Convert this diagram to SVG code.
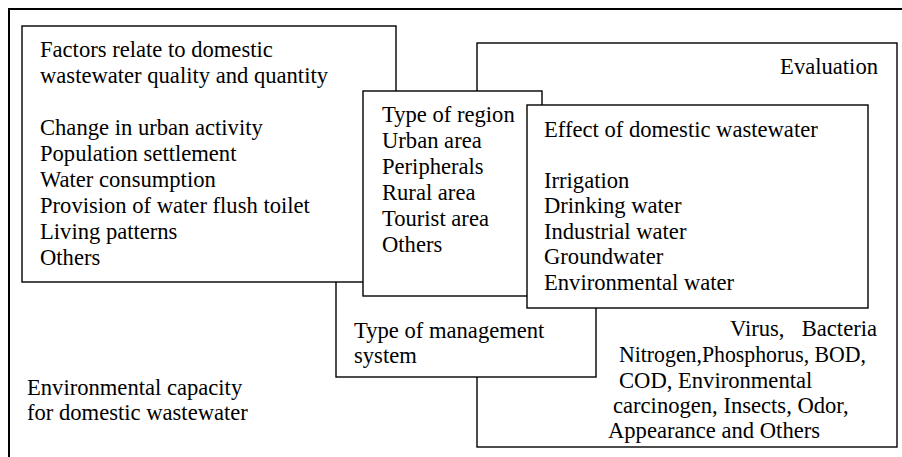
<svg xmlns="http://www.w3.org/2000/svg" width="902" height="457" viewBox="0 0 902 457">
<style>
.box{fill:#fff;stroke:#000;stroke-width:1.4}
.frame{fill:#fff;stroke:#000;stroke-width:2}
.t{font-family:'Liberation Serif','Tinos','DejaVu Serif',serif;font-size:22.6px;fill:#000}
</style>
<rect class="frame" x="9" y="9" width="910" height="470"/>
<g id="evaluation" class="t">
<rect class="box" x="477" y="43" width="420" height="404"/>
<text x="878" y="74" text-anchor="end">Evaluation</text>
<text x="730" y="336">Virus,</text>
<text x="877" y="336" text-anchor="end">Bacteria</text>
<text x="619" y="362" textLength="247" lengthAdjust="spacingAndGlyphs">Nitrogen,Phosphorus, BOD,</text>
<text x="619" y="388">COD, Environmental</text>
<text x="613" y="413">carcinogen, Insects, Odor,</text>
<text x="608" y="438">Appearance and Others</text>
</g>
<g id="management" class="t">
<rect class="box" x="336" y="250" width="260" height="127"/>
<text x="354" y="338">Type of management</text>
<text x="354" y="363">system</text>
</g>
<g id="factors" class="t">
<rect class="box" x="22" y="26" width="374" height="256"/>
<text x="40" y="57">Factors relate to domestic</text>
<text x="40" y="83">wastewater quality and quantity</text>
<text x="40" y="135">Change in urban activity</text>
<text x="40" y="161">Population settlement</text>
<text x="40" y="187">Water consumption</text>
<text x="40" y="213">Provision of water flush toilet</text>
<text x="40" y="239">Living patterns</text>
<text x="40" y="265">Others</text>
</g>
<g id="region" class="t">
<rect class="box" x="363" y="91" width="179" height="205"/>
<text x="382" y="122">Type of region</text>
<text x="382" y="148">Urban area</text>
<text x="382" y="174">Peripherals</text>
<text x="382" y="200">Rural area</text>
<text x="382" y="226">Tourist area</text>
<text x="382" y="252">Others</text>
</g>
<g id="effect" class="t">
<rect class="box" x="527" y="105" width="341" height="203"/>
<text x="544" y="137">Effect of domestic wastewater</text>
<text x="544" y="188">Irrigation</text>
<text x="544" y="213">Drinking water</text>
<text x="544" y="239">Industrial water</text>
<text x="544" y="264">Groundwater</text>
<text x="544" y="290">Environmental water</text>
</g>
<g id="capacity" class="t">
<text x="27" y="395">Environmental capacity</text>
<text x="27" y="420">for domestic wastewater</text>
</g>
<g id="connectors"/>
</svg>
